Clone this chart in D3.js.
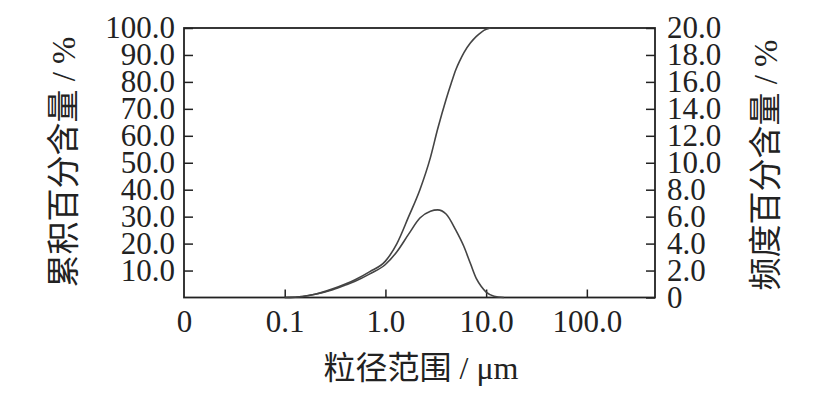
<!DOCTYPE html>
<html>
<head>
<meta charset="utf-8">
<script src="https://cdn.jsdelivr.net/npm/d3@7"></script>
<style>
  body { margin: 0; background: #fff; }
  svg text { font-family: "Liberation Serif", "Noto Sans CJK SC", serif; fill: #222; }
</style>
</head>
<body>
<div id="chart"></div>
<script>
// particle size (um) and the two curves
const sizes      = [0.1, 0.15, 0.2, 0.3, 0.4, 0.5, 0.7, 1.0, 1.3, 1.7, 2.2, 2.8, 3.3, 4.0, 4.5, 5.0, 5.5, 6.0, 7.0, 8.0, 9.0, 10.0, 11.0];
const cumulative = [0, 0.4, 1.2, 3.2, 5.0, 6.6, 9.6, 13.5, 20, 30, 40, 52, 62.5, 73.5, 79.5, 84.5, 88, 90.8, 94.5, 96.9, 98.5, 99.5, 100];

const freqSizes  = [0.1, 0.15, 0.2, 0.3, 0.4, 0.5, 0.7, 1.0, 1.3, 1.7, 2.2, 2.8, 3.3, 4.0, 5.0, 6.0, 7.0, 8.0, 9.0, 10.0, 12.0, 15.0];
const frequency  = [0, 0.08, 0.24, 0.58, 0.92, 1.2, 1.75, 2.45, 3.4, 4.7, 5.9, 6.4, 6.5, 6.2, 5.0, 3.8, 2.5, 1.4, 0.8, 0.4, 0.1, 0];

const xTicks      = [0.01, 0.1, 1, 10, 100];
const xTickLabels = ["0", "0.1", "1.0", "10.0", "100.0"];
const leftTicks   = [10, 20, 30, 40, 50, 60, 70, 80, 90, 100];
const rightTicks  = [0, 2, 4, 6, 8, 10, 12, 14, 16, 18, 20];

const W = 831, H = 397;
const pLeft = 184, pRight = 655, pTop = 28, pBottom = 297.5;

const svg = d3.select("#chart").append("svg")
    .attr("width", W)
    .attr("height", H);

const x = d3.scaleLog().domain([0.01, 475]).range([pLeft, pRight]);
const yL = d3.scaleLinear().domain([0, 100]).range([pBottom, pTop]);
const yR = d3.scaleLinear().domain([0, 20]).range([pBottom, pTop]);

// axes, ticks pointing inward
const gx = svg.append("g")
    .attr("transform", `translate(0,${pBottom})`)
    .call(d3.axisBottom(x).tickValues(xTicks)
        .tickFormat((d, i) => xTickLabels[i])
        .tickSizeInner(-8).tickSizeOuter(0).tickPadding(12));

const gl = svg.append("g")
    .attr("transform", `translate(${pLeft},0)`)
    .call(d3.axisLeft(yL).tickValues(leftTicks)
        .tickFormat(d3.format(".1f"))
        .tickSizeInner(-9).tickSizeOuter(0).tickPadding(9));

const gr = svg.append("g")
    .attr("transform", `translate(${pRight},0)`)
    .call(d3.axisRight(yR).tickValues(rightTicks)
        .tickFormat(d => d === 0 ? "0" : d.toFixed(1))
        .tickSizeInner(-9).tickSizeOuter(0).tickPadding(12));

[gx, gl, gr].forEach(g => {
    g.select(".domain").remove();
    g.selectAll(".tick line").attr("stroke", "#222").attr("stroke-width", 1.5);
    g.selectAll(".tick text").attr("font-size", 31).style("fill", "#222");
});
gx.select(".tick line").remove();

// frame
svg.append("rect")
    .attr("x", pLeft).attr("y", pTop)
    .attr("width", pRight - pLeft).attr("height", pBottom - pTop)
    .attr("fill", "none").attr("stroke", "#222").attr("stroke-width", 1.8);

// curves
const cumLine = d3.line()
    .x((d, i) => x(sizes[i]))
    .y(d => yL(d))
    .curve(d3.curveMonotoneX);

const freqLine = d3.line()
    .x((d, i) => x(freqSizes[i]))
    .y(d => yR(d))
    .curve(d3.curveMonotoneX);

svg.append("path")
    .attr("d", cumLine(cumulative))
    .attr("fill", "none").attr("stroke", "#444").attr("stroke-width", 1.6);

svg.append("path")
    .attr("d", freqLine(frequency))
    .attr("fill", "none").attr("stroke", "#444").attr("stroke-width", 1.6);

// titles
svg.append("text")
    .attr("x", 421).attr("y", 379)
    .attr("text-anchor", "middle")
    .attr("font-size", 32)
    .text("粒径范围 / μm");

svg.append("text")
    .attr("transform", "translate(64,162) rotate(-90)")
    .attr("text-anchor", "middle")
    .attr("dominant-baseline", "central")
    .attr("font-size", 33)
    .text("累积百分含量 / %");

svg.append("text")
    .attr("transform", "translate(766,165) rotate(-90)")
    .attr("text-anchor", "middle")
    .attr("dominant-baseline", "central")
    .attr("font-size", 33)
    .text("频度百分含量 / %");
</script>
</body>
</html>
